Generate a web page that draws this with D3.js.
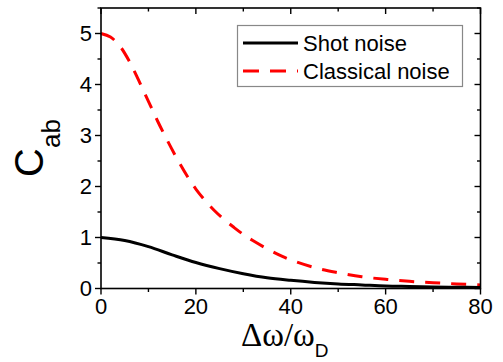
<!DOCTYPE html>
<html>
<head>
<meta charset="utf-8">
<script src="https://cdn.jsdelivr.net/npm/d3@7"></script>
<style>
  body { margin: 0; background: #fff; }
  svg { display: block; }
</style>
</head>
<body>
<svg id="chart" width="503" height="362"></svg>
<script>
// Data
const shot_x = [0, 5, 10, 15, 20, 25, 30, 35, 40, 45, 50, 55, 60, 65, 70, 75, 80];
const shot_y = [1.0, 0.94, 0.82, 0.66, 0.51, 0.39, 0.29, 0.21, 0.16, 0.12, 0.09, 0.07, 0.05, 0.04, 0.03, 0.025, 0.02];

const classical_x = [0, 2, 4, 6, 8, 10, 12, 14, 16, 18, 20, 22, 24, 26, 28, 30, 32, 35, 38, 40, 45, 50, 55, 60, 65, 70, 75, 80];
const classical_y = [5.0, 4.93, 4.75, 4.45, 4.07, 3.67, 3.27, 2.9, 2.55, 2.23, 1.95, 1.72, 1.52, 1.35, 1.2, 1.06, 0.94, 0.78, 0.64, 0.56, 0.41, 0.31, 0.23, 0.18, 0.14, 0.115, 0.09, 0.07];

const x_ticks = [0, 20, 40, 60, 80];
const y_ticks = [0, 1, 2, 3, 4, 5];
const legend_labels = ['Shot noise', 'Classical noise'];

// Layout
const plot_left = 101, plot_right = 480.5, plot_top = 8, plot_bottom = 288.5;
const major_len = 6, minor_len = 3.5;

const svg = d3.select('#chart');

const x = d3.scaleLinear().domain([0, 80]).range([plot_left, plot_right]);
const y = d3.scaleLinear().domain([0, 5.5]).range([plot_bottom, plot_top]);

const sans = 'Arial, "Liberation Sans", sans-serif';
const serif = '"Times New Roman", "Liberation Serif", serif';

// Curves
const line = d3.line()
  .x((d) => x(d[0]))
  .y((d) => y(d[1]))
  .curve(d3.curveCatmullRom.alpha(0.5));

const plot = svg.append('g').attr('id', 'curves');
plot.append('path')
  .datum(d3.zip(classical_x, classical_y))
  .attr('d', line)
  .attr('fill', 'none')
  .attr('stroke', '#ff0000')
  .attr('stroke-width', 3)
  .attr('stroke-dasharray', '15,11');
plot.append('path')
  .datum(d3.zip(shot_x, shot_y))
  .attr('d', line)
  .attr('fill', 'none')
  .attr('stroke', '#000')
  .attr('stroke-width', 3);

// Frame
svg.append('rect')
  .attr('x', plot_left).attr('y', plot_top)
  .attr('width', plot_right - plot_left).attr('height', plot_bottom - plot_top)
  .attr('fill', 'none')
  .attr('stroke', '#000')
  .attr('stroke-width', 1.6);

// Ticks: left/bottom point out, top/right point in
const x_minor = d3.range(0, 81, 10);
const y_minor = d3.range(0, 5.51, 0.5);
const is_major_x = (v) => v % 20 === 0;
const is_major_y = (v) => v % 1 === 0;

const ticks = svg.append('g')
  .attr('stroke', '#000')
  .attr('stroke-width', 1.4);

ticks.selectAll('line.xb')
  .data(x_minor)
  .enter()
  .append('line')
  .attr('x1', (d) => x(d)).attr('x2', (d) => x(d))
  .attr('y1', plot_bottom)
  .attr('y2', (d) => plot_bottom + (is_major_x(d) ? major_len : minor_len));
ticks.selectAll('line.xt')
  .data(x_minor)
  .enter()
  .append('line')
  .attr('x1', (d) => x(d)).attr('x2', (d) => x(d))
  .attr('y1', plot_top)
  .attr('y2', (d) => plot_top + (is_major_x(d) ? major_len : minor_len));
ticks.selectAll('line.yl')
  .data(y_minor)
  .enter()
  .append('line')
  .attr('y1', (d) => y(d)).attr('y2', (d) => y(d))
  .attr('x1', plot_left)
  .attr('x2', (d) => plot_left - (is_major_y(d) ? major_len : minor_len));
ticks.selectAll('line.yr')
  .data(y_minor)
  .enter()
  .append('line')
  .attr('y1', (d) => y(d)).attr('y2', (d) => y(d))
  .attr('x1', plot_right)
  .attr('x2', (d) => plot_right - (is_major_y(d) ? major_len : minor_len));

// Tick labels
svg.append('g')
  .selectAll('text')
  .data(x_ticks)
  .enter()
  .append('text')
  .attr('x', (d) => x(d))
  .attr('y', 314)
  .attr('text-anchor', 'middle')
  .attr('font-family', sans)
  .attr('font-size', 22)
  .text((d) => d);

svg.append('g')
  .selectAll('text')
  .data(y_ticks)
  .enter()
  .append('text')
  .attr('x', 92)
  .attr('y', (d) => y(d))
  .attr('dy', '0.36em')
  .attr('text-anchor', 'end')
  .attr('font-family', sans)
  .attr('font-size', 22)
  .text((d) => d);

// Axis titles
const ylab = svg.append('text')
  .attr('transform', 'translate(43,148) rotate(-90)')
  .attr('text-anchor', 'middle')
  .attr('font-family', sans);
ylab.append('tspan').attr('font-size', 40).text('C');
ylab.append('tspan').attr('font-size', 26).attr('dy', 17).text('ab');

const xlab = svg.append('text')
  .attr('x', 241)
  .attr('y', 346);
xlab.append('tspan')
  .attr('font-family', serif)
  .attr('font-size', 33)
  .text('\u0394\u03c9/\u03c9');
xlab.append('tspan')
  .attr('font-family', sans)
  .attr('font-size', 19)
  .attr('dy', 11)
  .text('D');

// Legend
const legend = svg.append('g').attr('id', 'legend');
legend.append('rect')
  .attr('x', 237.5).attr('y', 25.5)
  .attr('width', 225).attr('height', 61)
  .attr('fill', '#fff')
  .attr('stroke', '#888')
  .attr('stroke-width', 1.2);

const legend_styles = [
  { color: '#000', dash: null, cy: 43 },
  { color: '#ff0000', dash: '16,11', cy: 71 },
];
legend_styles.forEach((s, i) => {
  legend.append('line')
    .attr('x1', 243).attr('x2', 298)
    .attr('y1', s.cy).attr('y2', s.cy)
    .attr('stroke', s.color)
    .attr('stroke-width', 3)
    .attr('stroke-dasharray', s.dash);
  legend.append('text')
    .attr('x', 303)
    .attr('y', s.cy)
    .attr('dy', '0.36em')
    .attr('font-family', sans)
    .attr('font-size', 22)
    .text(legend_labels[i]);
});
</script>
</body>
</html>
